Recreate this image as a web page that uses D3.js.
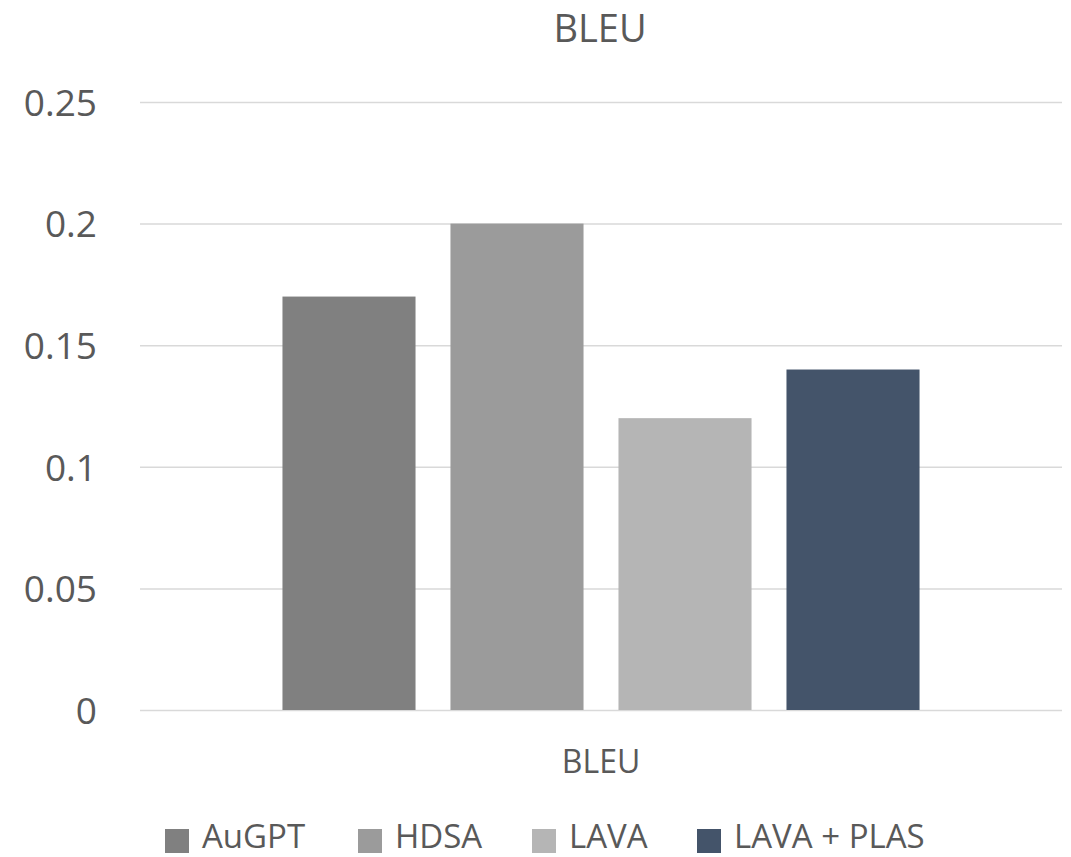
<!DOCTYPE html>
<html>
<head>
<meta charset="utf-8">
<script src="https://cdn.jsdelivr.net/npm/d3@7"></script>
<style>
  html, body { margin: 0; padding: 0; background: #fff; }
  svg { display: block; }
  text { font-family: "Open Sans", "Liberation Sans", sans-serif; fill: #595959; }
</style>
</head>
<body>
<svg id="chart" width="1071" height="857"></svg>
<script>
const categories = ["BLEU"];
const seriesNames = ["AuGPT", "HDSA", "LAVA", "LAVA + PLAS"];
const seriesValues = [0.17, 0.2, 0.12, 0.14];
const seriesColors = ["#808080", "#9b9b9b", "#b5b5b5", "#44546a"];
const yTicks = [0, 0.05, 0.1, 0.15, 0.2, 0.25];
const yTickLabels = ["0", "0.05", "0.1", "0.15", "0.2", "0.25"];
const title = "BLEU";

const svg = d3.select("#chart");
const plot = { left: 140, right: 1062, top: 102, bottom: 710 };

const y = d3.scaleLinear().domain([0, 0.25]).range([plot.bottom, plot.top]);
const x0 = d3.scaleBand().domain(categories).range([plot.left, plot.right]).paddingInner(0).paddingOuter(0);
const x1 = d3.scaleBand().domain(seriesNames).range([0, x0.bandwidth()]).paddingInner(0.208).paddingOuter(0.848);

// gridlines + y labels
const yAxis = d3.axisLeft(y).tickValues(yTicks).tickFormat((d, i) => yTickLabels[i])
  .tickSize(-(plot.right - plot.left)).tickPadding(43);
const gy = svg.append("g").attr("transform", `translate(${plot.left},0)`).call(yAxis);
gy.select(".domain").remove();
gy.selectAll(".tick line").attr("stroke", "#d9d9d9").attr("stroke-width", 1.5);
gy.selectAll(".tick text").attr("font-size", 37).attr("fill", "#595959")
  .attr("font-family", "'Open Sans', sans-serif").attr("dy", "0.36em");

// bars
const g = svg.append("g");
categories.forEach(cat => {
  g.selectAll("rect.bar").data(seriesNames.map((s, i) => ({ s, v: seriesValues[i], c: seriesColors[i] })))
    .join("rect").attr("class", "bar")
    .attr("x", d => x0(cat) + x1(d.s))
    .attr("width", x1.bandwidth())
    .attr("y", d => y(d.v))
    .attr("height", d => y(0) - y(d.v))
    .attr("fill", d => d.c);
});

// x axis category label
const xAxis = d3.axisBottom(x0).tickSize(0).tickPadding(40);
const gx = svg.append("g").attr("transform", `translate(0,${plot.bottom})`).call(xAxis);
gx.select(".domain").remove();
gx.selectAll(".tick text").attr("font-size", 32).attr("fill", "#595959")
  .attr("font-family", "'Open Sans', sans-serif");

// title
svg.append("text").attr("x", (plot.left + plot.right) / 2 - 1).attr("y", 42)
  .attr("text-anchor", "middle").attr("font-size", 38).text(title);

// legend
const legendX = [165, 358, 532, 697];
const lg = svg.append("g");
seriesNames.forEach((s, i) => {
  lg.append("rect").attr("x", legendX[i]).attr("y", 829).attr("width", 24).attr("height", 24).attr("fill", seriesColors[i]);
  lg.append("text").attr("x", legendX[i] + 37).attr("y", 848).attr("font-size", 33).text(s);
});
</script>
</body>
</html>
